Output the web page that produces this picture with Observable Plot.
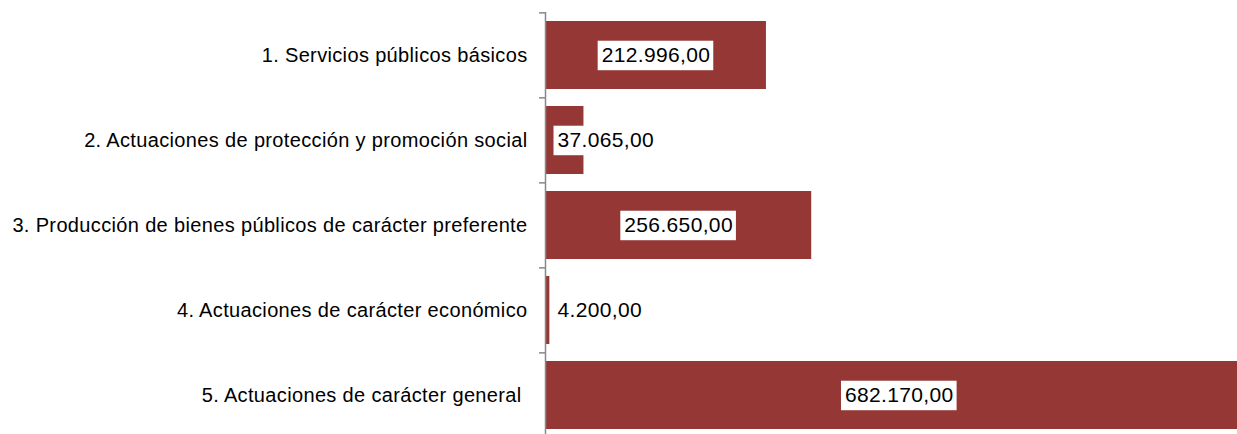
<!DOCTYPE html>
<html>
<head>
<meta charset="utf-8">
<script src="https://cdn.jsdelivr.net/npm/d3@7"></script>
<script src="https://cdn.jsdelivr.net/npm/@observablehq/plot@0.6"></script>
<style>
  html, body { margin: 0; padding: 0; background: #fff; overflow: hidden; }
  #chart svg { display: block; }
  #chart svg text { letter-spacing: 0.35px; }
</style>
</head>
<body>
<div id="chart"></div>
<script>
const categories = [
  "1. Servicios públicos básicos",
  "2. Actuaciones de protección y promoción social",
  "3. Producción de bienes públicos de carácter preferente",
  "4. Actuaciones de carácter económico",
  "5. Actuaciones de carácter general\u00a0"
];
const values = [212996.00, 37065.00, 256650.00, 4200.00, 682170.00];

const data = categories.map((cat, i) => ({cat, value: values[i]}));

const locale = d3.formatLocale({decimal: ",", thousands: ".", grouping: [3], currency: ["", ""]});
const fmt = locale.format(",.2f");

const yTop = 12, yBottom = 438.5;
const step = (yBottom - yTop) / categories.length;
const axisColor = "#888888";
const barColor = "#953735";

const plot = Plot.plot({
  width: 1237,
  height: 434,
  marginLeft: 545,
  marginRight: 0,
  marginTop: yTop,
  marginBottom: 0,
  style: {fontFamily: "'Liberation Sans', Arial, sans-serif", background: "#fff", color: "#000"},
  x: {domain: [0, 682170], range: [545, 1252.6], axis: null},
  y: {domain: categories, range: [yTop, yBottom], paddingInner: 0.2, paddingOuter: 0.1, axis: null, label: null},
  marks: [
    Plot.barX(data, {x: "value", y: "cat", fill: barColor}),
    Plot.ruleX([0], {stroke: axisColor, strokeWidth: 1.5}),
    Plot.axisY({tickSize: 6, text: null, dy: -step / 2, stroke: axisColor, strokeWidth: 1.5, label: null}),
    Plot.axisY({tickSize: 0, tickPadding: 18, fontSize: 20, fill: "#000", label: null}),
    Plot.text(data.filter(d => d.value >= 100000), {
      x: d => d.value / 2, y: "cat", text: d => fmt(d.value),
      fontSize: 21, fill: "#000"
    }),
    Plot.text(data.filter(d => d.value < 100000), {
      x: 0, y: "cat", text: d => fmt(d.value), dx: 12, textAnchor: "start",
      fontSize: 21, fill: "#000"
    })
  ]
});

document.getElementById("chart").appendChild(plot);

// white boxes behind value labels
const labelTexts = values.map(fmt);
plot.querySelectorAll('text').forEach(t => {
  if (!labelTexts.includes(t.textContent)) return;
  const b = t.getBBox();
  const cy = b.y + b.height / 2 + 0.5;
  const r = document.createElementNS("http://www.w3.org/2000/svg", "rect");
  r.setAttribute("x", b.x - 4);
  r.setAttribute("y", cy - 14.5);
  r.setAttribute("width", b.width + 7);
  r.setAttribute("height", 29.5);
  r.setAttribute("fill", "#fff");
  const tr = t.getAttribute("transform");
  if (tr) r.setAttribute("transform", tr);
  t.parentNode.insertBefore(r, t);
});
</script>
</body>
</html>
